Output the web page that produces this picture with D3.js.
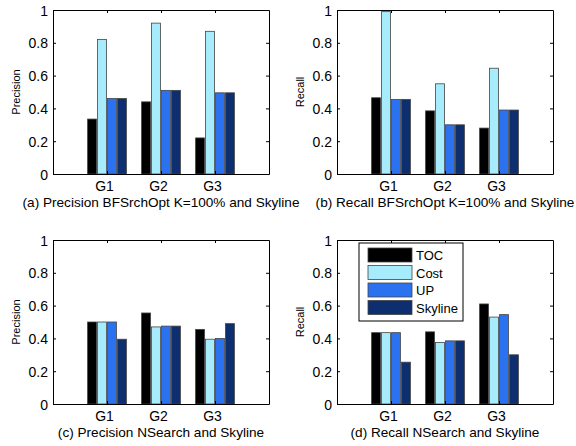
<!DOCTYPE html>
<html>
<head>
<meta charset="utf-8">
<script src="https://cdn.jsdelivr.net/npm/d3@7"></script>
<style>
  body { margin: 0; background: #fff; }
  text { font-family: "Liberation Sans", Arial, Helvetica, sans-serif; fill: #000; }
</style>
</head>
<body>
<div id="chart"></div>
<script>
var groups = ["G1", "G2", "G3"];
var seriesNames = ["TOC", "Cost", "UP", "Skyline"];
var seriesColors = ["#000000", "#a6ecfd", "#2a72f0", "#0d2f6f"];
var yTicks = [0, 0.2, 0.4, 0.6, 0.8, 1];

// one row per group: TOC, Cost, UP, Skyline
var precisionBFS = [[0.335, 0.82, 0.46, 0.46], [0.44, 0.92, 0.51, 0.51], [0.22, 0.87, 0.495, 0.495]];
var recallBFS = [[0.465, 0.99, 0.455, 0.455], [0.385, 0.55, 0.30, 0.30], [0.28, 0.645, 0.39, 0.39]];
var precisionNS = [[0.50, 0.50, 0.50, 0.395], [0.555, 0.47, 0.475, 0.475], [0.455, 0.395, 0.40, 0.49]];
var recallNS = [[0.435, 0.435, 0.435, 0.255], [0.44, 0.375, 0.385, 0.385], [0.61, 0.53, 0.545, 0.30]];

var panels = [
  {data: precisionBFS, ylabel: "Precision", caption: "(a) Precision BFSrchOpt K=100% and Skyline", left: 53, top: 10, legend: false},
  {data: recallBFS, ylabel: "Recall", caption: "(b) Recall BFSrchOpt K=100% and Skyline", left: 337, top: 10, legend: false},
  {data: precisionNS, ylabel: "Precision", caption: "(c) Precision NSearch and Skyline", left: 53, top: 240, legend: false},
  {data: recallNS, ylabel: "Recall", caption: "(d) Recall NSearch and Skyline", left: 337, top: 240, legend: true}
];

var width = 216, height = 164;

var svg = d3.select("#chart").append("svg")
  .attr("width", 576)
  .attr("height", 446);

panels.forEach(function(p) {
  var g = svg.append("g").attr("transform", `translate(${p.left}, ${p.top})`);

  var x = d3.scaleLinear().domain([0, 4]).range([0, width]);
  var y = d3.scaleLinear().domain([0, 1]).range([height, 0]);
  var inner = d3.scaleBand().domain(seriesNames).range([-19.4, 19.4]).paddingInner(0.1);

  var groupG = g.selectAll(".grp")
    .data(p.data)
    .enter()
    .append("g")
    .attr("transform", (d, i) => `translate(${x(i + 1)}, 0)`);

  groupG.selectAll("rect")
    .data(d => d)
    .enter()
    .append("rect")
    .attr("x", (d, j) => inner(seriesNames[j]))
    .attr("width", inner.bandwidth())
    .attr("y", d => y(d))
    .attr("height", d => y(0) - y(d))
    .attr("fill", (d, j) => seriesColors[j])
    .attr("stroke", "#444")
    .attr("stroke-width", 0.8);

  // axes, ticks pointing inward like matlab
  var leftAxis = d3.axisLeft(y).tickValues(yTicks).tickSizeInner(-3).tickSizeOuter(0)
    .tickFormat(d => d === 0 || d === 1 ? d3.format("d")(d) : d3.format(".1f")(d));
  var yA = g.append("g").call(leftAxis);
  yA.selectAll("text").attr("x", -5).attr("dy", "0.36em").style("font-size", "14px");

  var rightAxis = d3.axisRight(y).tickValues(yTicks).tickSizeInner(-3).tickSizeOuter(0).tickFormat("");
  g.append("g").attr("transform", `translate(${width}, 0)`).call(rightAxis);

  var bottomAxis = d3.axisBottom(x).tickValues([1, 2, 3]).tickSizeInner(-3).tickSizeOuter(0)
    .tickFormat((d, i) => groups[i]);
  var xA = g.append("g").attr("transform", `translate(0, ${height})`).call(bottomAxis);
  xA.selectAll("text").attr("y", 7).attr("dx", -3).style("font-size", "14px");

  var topAxis = d3.axisTop(x).tickValues([1, 2, 3]).tickSizeInner(-3).tickSizeOuter(0).tickFormat("");
  g.append("g").call(topAxis);

  g.selectAll(".domain").attr("stroke", "#000");
  g.selectAll(".tick line").attr("stroke", "#000");

  g.append("text")
    .attr("transform", "rotate(-90)")
    .attr("x", -height / 2)
    .attr("y", -33)
    .attr("text-anchor", "middle")
    .style("font-size", "11px")
    .text(p.ylabel);

  g.append("text")
    .attr("x", width / 2)
    .attr("y", height + 33)
    .attr("text-anchor", "middle")
    .style("font-size", "13.6px")
    .text(p.caption);

  if (p.legend) {
    var lg = g.append("g").attr("transform", "translate(22, 3)");
    lg.append("rect")
      .attr("width", 104)
      .attr("height", 78)
      .attr("fill", "#fff")
      .attr("stroke", "#000")
      .attr("stroke-width", 1);
    var rows = lg.selectAll(".row")
      .data(seriesNames)
      .enter()
      .append("g")
      .attr("transform", (d, i) => `translate(9, ${5 + i * 17.5})`);
    rows.append("rect")
      .attr("width", 44)
      .attr("height", 14)
      .attr("fill", (d, i) => seriesColors[i])
      .attr("stroke", "#444")
      .attr("stroke-width", 0.8);
    rows.append("text")
      .attr("x", 48)
      .attr("y", 12)
      .style("font-size", "13px")
      .text(d => d);
  }
});
</script>
</body>
</html>
